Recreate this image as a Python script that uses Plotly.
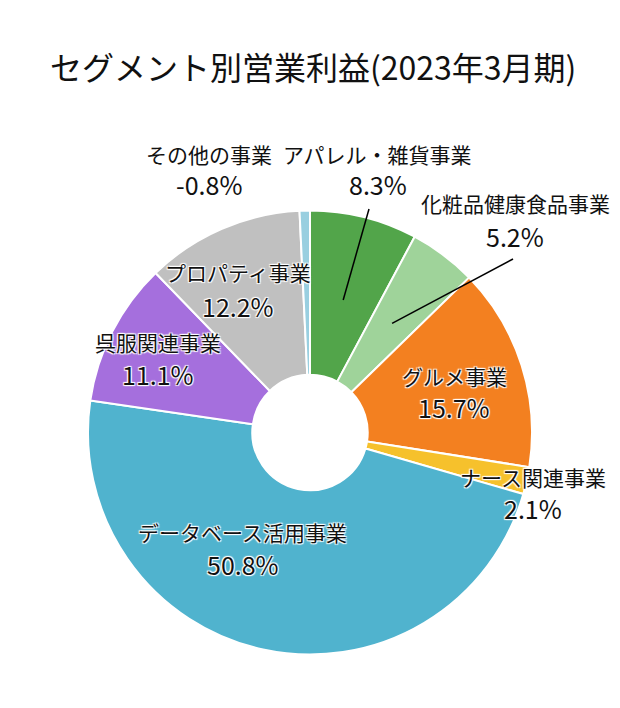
import math
import plotly.graph_objects as go

# ---- data ----
segments = ["アパレル・雑貨事業", "化粧品健康食品事業", "グルメ事業", "ナース関連事業",
            "データベース活用事業", "呉服関連事業", "プロパティ事業", "その他の事業"]
shares = [8.3, 5.2, 15.7, 2.1, 50.8, 11.1, 12.2, -0.8]
colors = ["#52a54a", "#9fd39a", "#f38020", "#f6c12c", "#50b3ce", "#a56fdd", "#c0c0c0", "#99cfe0"]
title_text = "セグメント別営業利益(2023年3月期)"

# ---- layout helpers (pixels in a 620x708 figure) ----
W, H = 620, 708
cx, cy, R = 310, 432.5, 222

def px(x):
    return x / W

def py(y):
    return 1 - y / H

sizes = [abs(v) for v in shares]
total = sum(sizes)

fig = go.Figure(go.Pie(
    labels=segments,
    values=sizes,
    marker=dict(colors=colors, line=dict(color="white", width=2)),
    hole=0.26,
    sort=False,
    direction="clockwise",
    rotation=0,
    textinfo="none",
    hoverinfo="label+text",
    hovertext=[f"{v}%" for v in shares],
    showlegend=False,
    domain=dict(x=[px(cx - R), px(cx + R)], y=[py(cy + R), py(cy - R)]),
))

# label placement (pixel centres of the name line / percent line)
label_pos = {
    "アパレル・雑貨事業": (378, 154, 184),
    "化粧品健康食品事業": (515, 203, 236),
    "グルメ事業": (454, 376, 407),
    "ナース関連事業": (533, 477, 508),
    "データベース活用事業": (243, 532, 564),
    "呉服関連事業": (158, 342, 374),
    "プロパティ事業": (238, 272, 306),
    "その他の事業": (209, 154, 184),
}
halo = "1px 1px 1px white, -1px -1px 1px white, 1px -1px 1px white, -1px 1px 1px white"
font_name = "Noto Sans CJK JP"
for seg, val in zip(segments, shares):
    x, yn, yp = label_pos[seg]
    fig.add_annotation(x=px(x), y=py(yn), xref="paper", yref="paper", text=seg,
                       showarrow=False, xanchor="center", yanchor="middle",
                       font=dict(family=font_name, size=21, color="#111", shadow=halo))
    fig.add_annotation(x=px(x), y=py(yp), xref="paper", yref="paper", text=f"{val}%",
                       showarrow=False, xanchor="center", yanchor="middle",
                       font=dict(family=font_name, size=25, color="#111", shadow=halo))

# leader lines from slice mid-angle to label
leaders = {"アパレル・雑貨事業": (369, 209), "化粧品健康食品事業": (513, 259)}
cum = 0
for seg, s in zip(segments, sizes):
    mid = (cum + s / 2) / total * 2 * math.pi
    cum += s
    if seg in leaders:
        r0 = 0.615 * R
        x0, y0 = cx + r0 * math.sin(mid), cy - r0 * math.cos(mid)
        x1, y1 = leaders[seg]
        fig.add_shape(type="line", xref="paper", yref="paper",
                      x0=px(x0), y0=py(y0), x1=px(x1), y1=py(y1),
                      line=dict(color="black", width=1.5))

fig.update_layout(
    width=W, height=H,
    margin=dict(l=0, r=0, t=0, b=0),
    paper_bgcolor="white", plot_bgcolor="white",
    title=dict(text=title_text, x=0.505, xanchor="center", y=py(69), yanchor="middle",
               yref="container", font=dict(family=font_name, size=32, color="#111")),
)

fig.write_html("out.html")
